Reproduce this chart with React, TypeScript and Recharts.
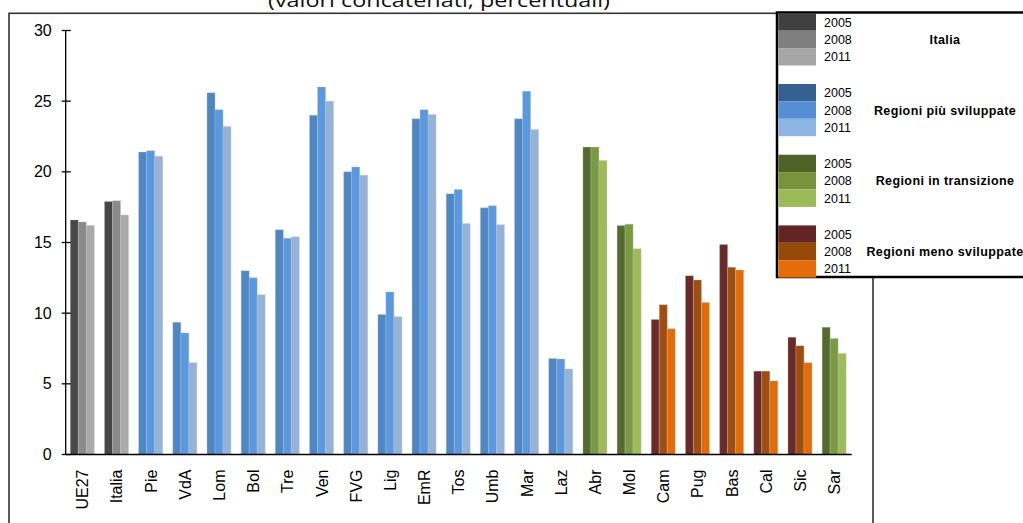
import { BarChart, Bar, XAxis, YAxis, Cell } from "recharts";

const categories = ["UE27", "Italia", "Pie", "VdA", "Lom", "Bol", "Tre", "Ven", "FVG", "Lig", "EmR", "Tos", "Umb", "Mar", "Laz", "Abr", "Mol", "Cam", "Pug", "Bas", "Cal", "Sic", "Sar"];
const groupOf = ["it", "it", "piu", "piu", "piu", "piu", "piu", "piu", "piu", "piu", "piu", "piu", "piu", "piu", "piu", "tra", "tra", "meno", "meno", "meno", "meno", "meno", "tra"];

const v2005 = [16.6, 17.9, 21.4, 9.35, 25.6, 13.0, 15.9, 24.0, 20.0, 9.9, 23.75, 18.45, 17.45, 23.75, 6.8, 21.75, 16.2, 9.55, 12.65, 14.85, 5.9, 8.3, 9.0];
const v2008 = [16.45, 17.95, 21.5, 8.6, 24.4, 12.5, 15.3, 26.0, 20.35, 11.5, 24.4, 18.75, 17.6, 25.7, 6.75, 21.75, 16.3, 10.6, 12.35, 13.25, 5.9, 7.7, 8.2];
const v2011 = [16.2, 16.95, 21.1, 6.5, 23.2, 11.3, 15.4, 25.0, 19.75, 9.75, 24.05, 16.35, 16.25, 23.0, 6.05, 20.8, 14.55, 8.9, 10.75, 13.05, 5.2, 6.5, 7.15];

const years = ["2005", "2008", "2011"];
const yTicks = [0, 5, 10, 15, 20, 25, 30];

const legendGroups = [
  { key: "it", label: "Italia" },
  { key: "piu", label: "Regioni più sviluppate" },
  { key: "tra", label: "Regioni in transizione" },
  { key: "meno", label: "Regioni meno sviluppate" },
];

// bar fills (a bit lighter/shaded than the legend swatches, as in the source)
const barColors: Record<string, string[]> = {
  it: ["#474747", "#8a8a8a", "#aaaaaa"],
  piu: ["#4f86c4", "#5a99e0", "#95b3d8"],
  tra: ["#556b2d", "#799a42", "#9dbb5a"],
  meno: ["#6b2a2a", "#9f4e10", "#e36c0a"],
};
const legendColors: Record<string, string[]> = {
  it: ["#404040", "#7f7f7f", "#a6a6a6"],
  piu: ["#376092", "#558ed5", "#8eb4e3"],
  tra: ["#4f6228", "#77933c", "#9bbb59"],
  meno: ["#632523", "#984807", "#e46c0a"],
};

const data = categories.map((c, i) => ({ name: c, y2005: v2005[i], y2008: v2008[i], y2011: v2011[i] }));
const seriesKeys = ["y2005", "y2008", "y2011"];

const FONT = "'Liberation Sans', Arial, sans-serif";

function XTick(props: any) {
  const { x, y, payload } = props;
  const ty = y + 7;
  return (
    <text
      x={x + 5.5}
      y={ty}
      transform={`rotate(-90, ${x + 5.5}, ${ty})`}
      textAnchor="end"
      fontFamily={FONT}
      fontSize={16}
      fill="#000"
    >
      {payload.value}
    </text>
  );
}

function YTick(props: any) {
  const { x, y, payload } = props;
  return (
    <g>
      <line x1={x + 10} x2={x + 19} y1={y} y2={y} stroke="#000" strokeWidth={1.3} />
      <text x={x} y={y} dy={5.5} textAnchor="end" fontFamily={FONT} fontSize={16} fill="#000">
        {payload.value}
      </text>
    </g>
  );
}

export default function App() {
  const rowH = 17.4;
  const groupH = 70.7;
  return (
    <div style={{ position: "absolute", left: 0, top: 0, width: 1023, height: 523, background: "#fff", overflow: "hidden" }}>
      <BarChart
        width={1023}
        height={523}
        data={data}
        margin={{ top: 30.5, right: 171.3, bottom: 0, left: 0 }}
        barCategoryGap="13.5%"
        barGap={0}
      >
        <XAxis
          dataKey="name"
          height={68.5}
          interval={0}
          tickLine={false}
          axisLine={{ stroke: "#000", strokeWidth: 1.3 }}
          tick={<XTick />}
        />
        <YAxis
          width={65.7}
          domain={[0, 30]}
          ticks={yTicks}
          tickSize={4}
          tickMargin={10}
          tickLine={false}
          axisLine={{ stroke: "#000", strokeWidth: 1.3 }}
          tick={<YTick />}
        />
        {seriesKeys.map((k, si) => (
          <Bar key={k} dataKey={k} isAnimationActive={false}>
            {categories.map((c, i) => (
              <Cell key={c} fill={barColors[groupOf[i]][si]} stroke="rgba(190,190,190,0.55)" strokeWidth={0.6} />
            ))}
          </Bar>
        ))}
      </BarChart>
      <svg width={1023} height={523} style={{ position: "absolute", left: 0, top: 0, pointerEvents: "none" }}>
        <text
          x={439}
          y={7}
          textAnchor="middle"
          fontFamily="'Open Sans', sans-serif"
          fontSize={19}
          textLength={342}
          lengthAdjust="spacingAndGlyphs"
          fill="#111"
        >
          (valori concatenati, percentuali)
        </text>
        <rect x={9} y={13.3} width={864} height={540} fill="none" stroke="#333" strokeWidth={1.6} />
        <g>
          <rect x={777} y={12.5} width={260} height={264.5} fill="#fff" stroke="#000" strokeWidth={2.5} />
          {legendGroups.map((g, gi) => {
            const top = 13.3 + gi * groupH;
            return (
              <g key={g.key}>
                {years.map((yr, yi) => (
                  <g key={yr}>
                    <rect x={778.3} y={top + yi * rowH} width={37.7} height={rowH} fill={legendColors[g.key][yi]} />
                    <text x={824} y={top + yi * rowH + rowH / 2 + 4.5} fontFamily={FONT} fontSize={12.5} fill="#000">
                      {yr}
                    </text>
                  </g>
                ))}
                <text
                  x={945}
                  y={top + rowH * 1.5 + 4.5}
                  textAnchor="middle"
                  fontFamily={FONT}
                  fontSize={12.5}
                  fontWeight="bold"
                  letterSpacing={0.4}
                  fill="#000"
                >
                  {g.label}
                </text>
              </g>
            );
          })}
        </g>
      </svg>
    </div>
  );
}
